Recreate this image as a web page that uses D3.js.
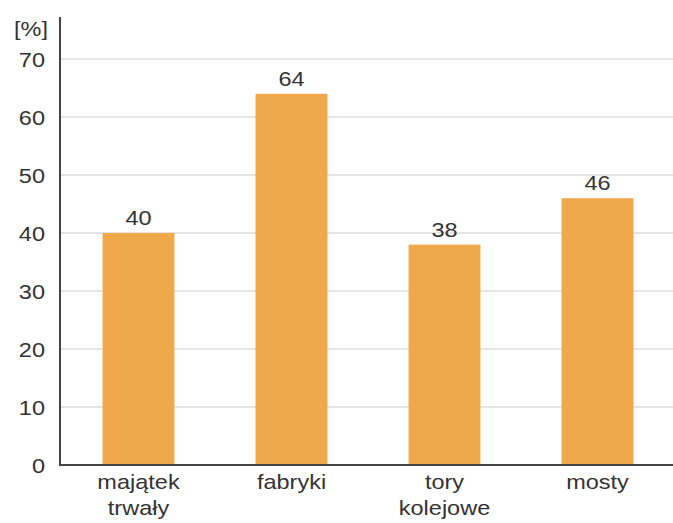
<!DOCTYPE html>
<html><head><meta charset="utf-8">
<script src="https://cdn.jsdelivr.net/npm/d3@7"></script>
<style>body{margin:0;background:#fff}svg{display:block}text{font-family:"Liberation Sans",Arial,sans-serif;fill:#333}</style>
</head><body><svg id="c" width="673" height="523"></svg>
<script>
const categories = [["majątek","trwały"],["fabryki"],["tory","kolejowe"],["mosty"]];
const values = [40, 64, 38, 46];
const yTicks = [0,10,20,30,40,50,60,70];
const unitLabel = "[%]";

const svg = d3.select("#c");
const x0 = 60, xEnd = 673, yBase = 465, yTop = 59;
const y = d3.scaleLinear().domain([0,70]).range([yBase, yTop]);
const x = d3.scaleBand().domain(categories.map((d,i)=>i)).range([62, 674]).paddingInner(0.53).paddingOuter(0.265);
const SX = 1.12;
function place(sel, fx, fy){ return sel.attr("transform",(d,i)=>`translate(${fx(d,i)},${fy(d,i)}) scale(${SX},1)`); }

// gridlines
svg.append("g").selectAll("line").data(yTicks.filter(d=>d>0)).join("line")
  .attr("x1", x0).attr("x2", xEnd).attr("y1", d=>y(d)).attr("y2", d=>y(d))
  .attr("stroke", "#dcdcdc").attr("stroke-width", 1.5);

// y tick labels
place(svg.append("g").selectAll("text").data(yTicks).join("text"), ()=>45, d=>y(d)+8)
  .attr("text-anchor","end").attr("font-size", 21).text(d=>d);

place(svg.append("g").selectAll("text").data([unitLabel]).join("text"), ()=>31, ()=>36)
  .attr("text-anchor","middle").attr("font-size",21).text(d=>d);

// bars
svg.append("g").selectAll("rect").data(values).join("rect")
  .attr("x", (d,i)=>x(i)).attr("width", x.bandwidth())
  .attr("y", d=>y(d)).attr("height", d=>yBase - y(d))
  .attr("fill", "#f0a94a");

// value labels
place(svg.append("g").selectAll("text").data(values).join("text"), (d,i)=>x(i)+x.bandwidth()/2, d=>y(d)-8)
  .attr("text-anchor","middle").attr("font-size",21).text(d=>d);

// axes lines
svg.append("line").attr("x1", x0).attr("x2", x0).attr("y1", 17).attr("y2", yBase+1)
  .attr("stroke","#444").attr("stroke-width",2);
svg.append("line").attr("x1", x0-1).attr("x2", xEnd).attr("y1", yBase).attr("y2", yBase)
  .attr("stroke","#444").attr("stroke-width",2);

// category labels
const cg = place(svg.append("g").selectAll("text").data(categories).join("text"), (d,i)=>x(i)+x.bandwidth()/2, ()=>489)
  .attr("text-anchor","middle").attr("font-size",21);
cg.each(function(lines){
  const t = d3.select(this);
  lines.forEach((l,j)=>{ t.append("tspan").attr("x", 0).attr("y", j*26).text(l); });
});
</script></body></html>
